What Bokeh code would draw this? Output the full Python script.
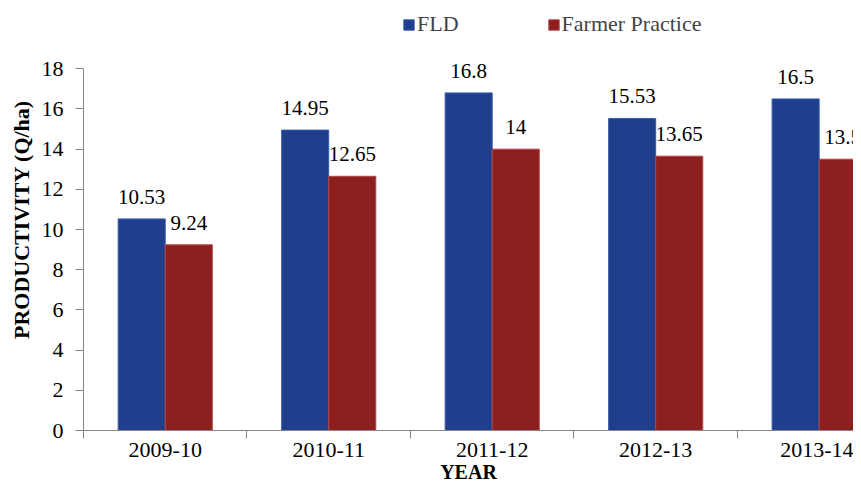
from bokeh.plotting import figure
from bokeh.models import Range1d, FixedTicker, LabelSet, ColumnDataSource, Legend, LegendItem
from bokeh.core.properties import value
from bokeh.transform import dodge
from bokeh.embed import file_html
from bokeh.resources import INLINE

years = ["2009-10", "2010-11", "2011-12", "2012-13", "2013-14"]
fld = [10.53, 14.95, 16.8, 15.53, 16.5]
farmer = [9.24, 12.65, 14, 13.65, 13.5]
y_ticks = [0, 2, 4, 6, 8, 10, 12, 14, 16, 18]

FONT = "Liberation Serif"
BLUE = "#1F3F8C"
RED = "#8E1F1F"
AXIS = "#868686"

pos = list(range(len(years)))
src = ColumnDataSource(dict(
    x=pos, fld=fld, farmer=farmer,
    fld_lbl=[f"{v:g}" for v in fld],
    farmer_lbl=[f"{v:g}" for v in farmer],
))

p = figure(width=853, height=485, output_backend="svg", toolbar_location=None,
           x_range=Range1d(-0.5, 4.21), y_range=Range1d(0, 21),
           min_border_left=83, min_border_right=0, min_border_top=8, min_border_bottom=10)
p.outline_line_color = None
p.grid.visible = False
p.background_fill_color = "white"

bw = 0.288
r1 = p.vbar(x=dodge("x", -bw / 2, range=p.x_range), top="fld", width=bw, bottom=0,
            source=src, fill_color=BLUE, line_color="#3A5FA8", line_width=1)
r2 = p.vbar(x=dodge("x", bw / 2, range=p.x_range), top="farmer", width=bw, bottom=0,
            source=src, fill_color=RED, line_color="#B04848", line_width=1)

for col, off in (("fld", -bw / 2), ("farmer", bw / 2)):
    p.add_layout(LabelSet(x=dodge("x", off, range=p.x_range), y=col, text=col + "_lbl",
                          source=src, text_align="center", text_baseline="alphabetic",
                          y_offset=15, text_font=value(FONT), text_font_size=value("21px"),
                          text_color="black"))

legend = Legend(items=[LegendItem(label="FLD", renderers=[r1]),
                       LegendItem(label="Farmer Practice", renderers=[r2])],
                orientation="horizontal", location=(319, 393),
                glyph_width=13, glyph_height=13, label_standoff=2, spacing=88,
                padding=0, margin=0, border_line_alpha=0, background_fill_alpha=0,
                label_text_font=FONT, label_text_font_size="22px", label_height=20)
p.add_layout(legend, "center")

# y axis
ya = p.yaxis[0]
ya.ticker = FixedTicker(ticks=y_ticks)
ya.bounds = (0, 18)
ya.axis_line_color = AXIS
ya.major_tick_line_color = AXIS
ya.major_tick_in = 0
ya.major_tick_out = 8
ya.minor_tick_line_color = None
ya.major_label_standoff = 12
ya.major_label_text_font = FONT
ya.major_label_text_font_size = "22px"
ya.major_label_text_color = "black"
ya.axis_label = "PRODUCTIVITY (Q/ha)"
ya.axis_label_text_font = FONT
ya.axis_label_text_font_size = "22px"
ya.axis_label_text_font_style = "bold"
ya.axis_label_text_color = "black"
ya.axis_label_standoff = 5

# x axis
xa = p.xaxis[0]
xa.ticker = FixedTicker(ticks=pos, minor_ticks=[-0.5, 0.5, 1.5, 2.5, 3.5])
xa.major_label_overrides = {i: y for i, y in zip(pos, years)}
xa.axis_line_color = AXIS
xa.major_tick_line_color = None
xa.major_tick_in = 0
xa.major_tick_out = 0
xa.minor_tick_line_color = AXIS
xa.minor_tick_in = 0
xa.minor_tick_out = 8
xa.major_label_standoff = 4
xa.major_label_text_font = FONT
xa.major_label_text_font_size = "22px"
xa.major_label_text_color = "black"
xa.axis_label = "YEAR"
xa.axis_label_text_font = FONT
xa.axis_label_text_font_size = "20px"
xa.axis_label_text_font_style = "bold"
xa.axis_label_text_color = "black"
xa.axis_label_standoff = 1

open("out.html", "w").write(file_html(p, INLINE))
